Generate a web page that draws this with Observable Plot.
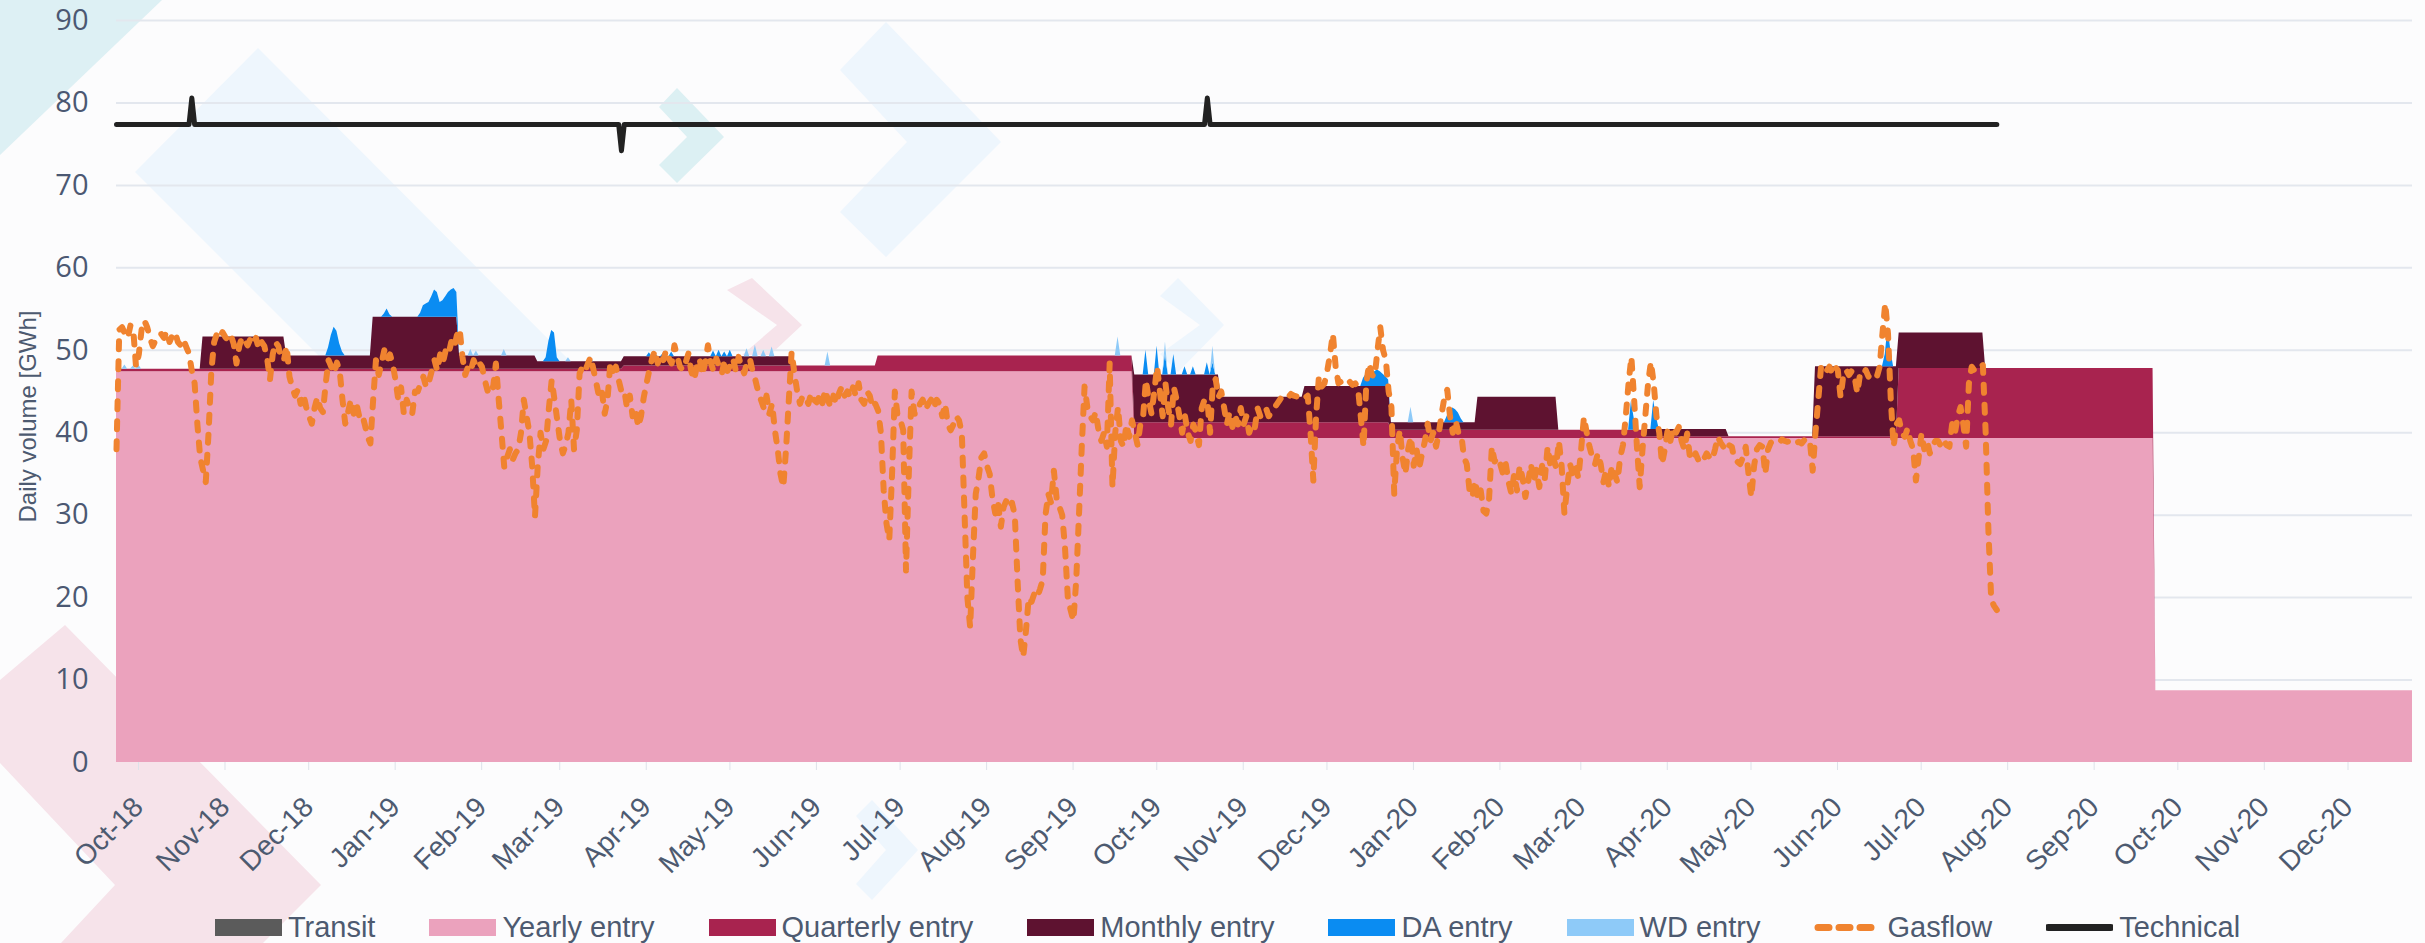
<!DOCTYPE html>
<html><head><meta charset="utf-8">
<script src="https://cdn.jsdelivr.net/npm/d3@7"></script>
<script src="https://cdn.jsdelivr.net/npm/@observablehq/plot@0.6"></script>
<style>
html,body{margin:0;padding:0;background:#fcfcfd;overflow:hidden;}
#bg{position:absolute;left:0;top:0;width:2425px;height:943px;z-index:0;}
#wrap{position:relative;z-index:1;}
#chart{width:2425px;height:893px;}
#legend{display:flex;justify-content:center;align-items:center;gap:54px;height:50px;margin-top:9px;font-family:"Liberation Sans",Arial,sans-serif;font-size:29px;color:#4d5a70;padding-left:30px;}
.item{display:flex;align-items:center;gap:6px;white-space:nowrap;}
.sw{width:67px;height:17px;display:block;}
</style></head><body>
<svg id="bg" width="2425" height="943">
  <polygon points="0,0 162,0 0,155" fill="#ddf0f4"/>
  <polygon points="258,48 135,172 470,507 593,384" fill="#eef6fd"/>
  <polygon points="886,22 1001,142 886,257 840,212 907,142 840,70" fill="#eef6fd"/>
  <polygon points="677,88 724,137 677,183 659,165 687,137 659,107" fill="#dcf0f3"/>
  <polygon points="1178,278 1224,325 1178,372 1160,354 1200,325 1160,296" fill="#eef6fd"/>
  <polygon points="752,278 802,325 770,355 742,355 777,325 727,290" fill="#f6e3ea"/>
  <polygon points="0,680 65,625 321,885 263,943 61,943 115,885 0,763" fill="#f6e3ea"/>
  <polygon points="872,800 918,850 872,900 856,884 886,850 856,816" fill="#eef6fd"/>
</svg>
<div id="wrap"><div id="chart"></div><div id="legend"></div></div>
<script>
const seriesNames = ["Transit","Yearly entry","Quarterly entry","Monthly entry","DA entry","WD entry"];
const seriesColors = ["#5b5b5b","#eba2bd","#a8234f","#5e1230","#0a8cf2","#8ecaf8"];
const lineNames = ["Gasflow","Technical"];
const lineColors = ["#f0832f","#222222"];
const yTitle = "Daily volume [GWh]";
const yTicks = [0,10,20,30,40,50,60,70,80,90];
const monthLabels = ["Oct-18","Nov-18","Dec-18","Jan-19","Feb-19","Mar-19","Apr-19","May-19","Jun-19","Jul-19","Aug-19","Sep-19","Oct-19","Nov-19","Dec-19","Jan-20","Feb-20","Mar-20","Apr-20","May-20","Jun-20","Jul-20","Aug-20","Sep-20","Oct-20","Nov-20","Dec-20"];

// Yearly entry per gas year
const yearlyStart = ["2018-10-01","2019-10-01","2020-10-01"];
const yearlyValue = [47.4, 39.3, 8.7];
// Quarterly entry (on top of yearly)
const quarterStart = ["2018-10-01","2019-01-01","2019-04-01","2019-07-01","2019-10-01","2020-01-01","2020-04-01","2020-07-01","2020-10-01"];
const quarterValue = [0.3, 0.3, 0.7, 1.9, 1.9, 1.0, 0.2, 8.5, 0];
// Monthly entry, Oct-18 .. Dec-20
const monthValue = [0,3.9,1.6,6.3,1.6,0.9,1.1,1.1,0,0,0,0,5.8,3.1,4.4,0.9,4.0,0,0.9,0,8.5,4.3,0,0,0,0,0];
// Day-ahead entry
const daDates = ["2018-12-16","2018-12-17","2018-12-18","2018-12-19","2018-12-20","2018-12-21",
 "2019-01-05","2019-01-06","2019-01-07",
 "2019-01-18","2019-01-19","2019-01-20","2019-01-21","2019-01-22","2019-01-23","2019-01-24","2019-01-25","2019-01-26","2019-01-27","2019-01-28","2019-01-29","2019-01-30","2019-01-31",
 "2019-03-04","2019-03-05","2019-03-06","2019-03-07","2019-03-08",
 "2019-04-10","2019-04-12","2019-04-15","2019-04-18","2019-05-03","2019-05-05","2019-05-07","2019-05-09",
 "2019-10-05","2019-10-09","2019-10-12","2019-10-15","2019-10-19","2019-10-22","2019-10-27","2019-10-29",
 "2019-12-22","2019-12-23","2019-12-24","2019-12-25","2019-12-26","2019-12-27","2019-12-28","2019-12-29","2019-12-30","2019-12-31",
 "2020-01-21","2020-01-22","2020-01-23","2020-01-24","2020-01-25","2020-01-26",
 "2020-03-27","2020-03-28","2020-04-04","2020-04-05",
 "2020-06-26","2020-06-27","2020-06-28"];
const daValues = [1.0,2.5,3.5,3.0,1.5,0.5,
 0.4,1.0,0.3,
 0.5,1.4,1.6,1.8,2.5,3.3,3.0,1.8,2.0,2.5,3.0,3.3,3.5,3.0,
 0.5,2.5,3.8,3.5,0.5,
 0.5,0.6,0.4,0.6,0.7,0.8,0.6,0.8,
 3.0,3.5,2.5,2.5,1.0,1.0,1.5,1.5,
 1.0,1.5,1.5,1.2,1.8,2.0,1.8,1.5,1.2,0.8,
 0.8,1.5,1.8,1.6,1.2,0.5,
 3.5,1.5,3.5,1.5,
 1.5,4.8,2.0];
// Within-day entry
const wdDates = ["2018-10-02","2018-10-04","2018-10-07","2018-10-09","2019-02-05","2019-02-07","2019-02-17","2019-03-12","2019-03-20",
 "2019-05-15","2019-05-18","2019-05-21","2019-05-24","2019-06-13","2019-09-25","2019-10-12","2019-10-29","2020-01-08"];
const wdValues = [0.4,0.5,0.4,0.5,0.8,0.6,0.8,0.5,0.6,1.0,1.4,0.8,1.2,1.7,2.3,1.5,2.0,1.9];
// Gasflow, daily from 2018-10-01
const gasStart = "2018-10-01";
const gasflow = [
38,52.5,52.8,52,51.5,53,52.5,48,49.5,52.5,
53.6,52.8,51.5,50.5,51.2,51.8,52,51.5,52.3,51,
51.8,52.2,51,50.6,51.3,50.4,49.6,47.5,46,41,
37,35.5,34,40,47.5,51,52,51.5,52.2,51.6,
51.2,51.8,50.8,48.4,50.5,51.6,51.2,50.6,51.4,50.8,
51.5,50.2,51,50.5,49,46.4,49.5,51,50.5,49,
48.8,50.5,46.8,45.5,44.5,45.2,43.5,44.7,43.1,42,
41.1,43,44.3,43,42.5,46,48.8,48,47.2,48.5,
47.5,44,41.1,42.5,44,42.3,43.5,42,42.3,41,
39.5,38.7,44,48.8,47,48.5,50,48.8,49.5,48.4,
46.4,44,45.5,42.3,44,43,42.3,45,45,46,
46.8,45.5,46.2,47.5,48.8,47.5,49.5,48.5,50,49.5,
51,50.2,51.8,52.6,49.2,47,48,47.5,48.8,48,
48.5,48,46.4,45.1,46,45.5,48.4,44,40,35.8,
37,38,36.7,37.5,38,40,44,42,40,36,
29.8,36,40,38,39,43,46.4,44,41.5,39,
37.5,38.5,40,44,38,40.3,47.2,48,47.5,48.4,
49.2,47.6,46,44.3,45,42.3,44,48.4,47.5,48,
46.4,45,45.2,43,44.5,42,43,40.7,42,44.3,
46,47.6,49,50,48.4,49.5,48.8,50,49,48.4,
50.6,49.2,48,47.6,48.5,49.6,47.5,46.4,48,49,
47,48.5,50.6,48.5,47.5,49,48,47.2,48.8,47.5,
48.2,49,47.5,49.2,48,47.2,48.5,49,47.5,46.4,
45,44,43,44.5,42.3,43.5,40.3,38,35,33.4,
38,44,49.8,47.2,45,43.5,44.5,44.3,43.5,44.8,
44,43.7,44.5,43.5,45.2,44,43.1,44.5,43.5,44.8,
45.6,44.5,45,44.3,45.5,44.5,46,44,43.5,45,
44.5,43,43.5,42.7,40,33,29,27,35,45,
42,41.5,40.3,23.3,35,45,42.3,42.3,43.5,44,
42.8,43.5,44,43,44,43.5,42,43.5,41,40.3,
41,42,41.5,40,30,20,16.4,25,32.6,34.5,
37,37.5,36,35,32,30.2,31.5,28.6,31,31.8,
31,31.5,30,22,15,12.8,16,20,19.5,20.5,
20,21,22.1,30,32.6,31.5,35.4,32,31,30,
26,20,18.5,17.2,22,30,38.3,45.6,43.1,42,
41.5,42.5,40.3,39,40,38.3,48.4,33.4,40,43.1,
39,38.3,41,39.5,41.5,40,38.5,41,42,46.4,
44,42.3,45,48,45,42,46,43,41,45.5,
44,42,40,42,40,39,41,40,38.5,43,
44,44,40,46,46.5,44.3,45,43.1,41,42.5,
40.7,42,41,43,41,42,40,41,40.5,43,
42,42.5,43,42,42.5,43,43.5,44,44.5,44.5,
44.3,44.7,44.5,44.4,44.6,44.5,44.2,44.5,40,34.2,
42,46.8,45.6,46,47.5,49.5,52,48,46,46.2,
45.8,46,46.2,45.8,46,45.5,42,38.3,46,48.4,
47,46.8,50,52.8,50,48.8,45,43.1,32.6,38,
40.3,37,35,38,39.5,36,38,35.8,37.5,39,
41.1,39,40,38.3,40,42.3,44.3,45.2,42,40,
41.5,40,39.9,37,36.2,33,32.2,34.2,32,33,
30.5,30.2,32,38.3,36.5,37,36.2,35,36.2,34,
32.6,35,33,36,34.5,32.2,34,36.2,34,35.5,
33.4,36,34.5,38.3,36,37,35.8,39,36,30.2,
33.4,36.2,35,36,34.5,38,41.9,40,38.3,37,
36.2,37.5,36.2,34,35.5,33.4,36,35,34,37,
38.5,42,46,49.2,44,38.3,33.4,38,42,46,
48.6,46,42,40,36.2,38,40.3,39,40.7,40,
40.7,39,38,39.9,37,36.7,37.5,36.7,37.2,36.8,
37.5,37,36.7,38,39.5,38.8,38.3,39,38.5,38.3,
36.7,36.5,36.2,37,38.3,35,32.2,36,38,38.5,
38.3,35,38,38.8,39,39,38.8,39.2,39,38.9,
39.1,39,38.7,38.9,38.7,39.1,38.8,39,35.4,40,
44,48,48.2,47.5,48,47.2,48,47.6,44.3,47,
47.6,47,47.5,46.8,44.8,47.2,47,47.6,46.8,47.2,
47,46.8,48,52,55.7,52,44,38.3,41,41.5,
40,39.5,40.5,39,38,34.2,37,39.9,38,39,
37.5,38.5,39,39,38.3,39,38.5,38.3,41.1,40,
42,43.1,41,38.3,46,48,47.5,48,48,48.2,
40,28,19.7,19,18.5];
// Technical capacity
const techDates = ["2018-10-01","2018-10-27","2018-10-28","2018-10-29","2019-03-30","2019-03-31","2019-04-01","2019-10-26","2019-10-27","2019-10-28","2020-08-05"];
const techValues = [77.4,77.4,80.6,77.4,77.4,74.2,77.4,77.4,80.6,77.4,77.4];

const parse = d3.utcParse("%Y-%m-%d");
const fmt = d3.utcFormat("%Y-%m-%d");
const start = parse("2018-10-01"), end = parse("2021-01-01");
const days = d3.utcDay.range(start, d3.utcDay.offset(end, 1));
const daMap = new Map(daDates.map((d, i) => [d, daValues[i]]));
const wdMap = new Map(wdDates.map((d, i) => [d, wdValues[i]]));
const yStarts = yearlyStart.map(parse), qStarts = quarterStart.map(parse);
const stepIndex = (starts, d) => { let k = 0; starts.forEach((s, i) => { if (s <= d) k = i; }); return k; };
const rows = [];
for (const d of days) {
  const mi = Math.min(monthValue.length - 1, d3.utcMonth.count(start, d));
  const key = fmt(d);
  const vals = [0, yearlyValue[stepIndex(yStarts, d)], quarterValue[stepIndex(qStarts, d)], monthValue[mi], daMap.get(key) || 0, wdMap.get(key) || 0];
  seriesNames.forEach((s, i) => rows.push({date: d, series: s, value: vals[i]}));
}
const g0 = parse(gasStart);
const gasRows = gasflow.map((v, i) => ({date: d3.utcDay.offset(g0, i), value: v}));
const techRows = techDates.map((d, i) => ({date: parse(d), value: techValues[i]}));
const monthTicks = d3.utcMonth.range(start, end);

const txt = "#4d5a70";
const chart = Plot.plot({
  width: 2425, height: 893,
  marginLeft: 116, marginRight: 13, marginTop: 20, marginBottom: 131,
  style: {background: "transparent", fontFamily: "'Liberation Sans', Arial, sans-serif", color: txt},
  x: {type: "utc", domain: [start, end]},
  y: {domain: [0, 90]},
  color: {domain: seriesNames, range: seriesColors},
  marks: [
    Plot.gridY(yTicks.filter(v => v > 0), {stroke: "#e3e7ee", strokeOpacity: 1, strokeWidth: 2}),
    Plot.areaY(rows, {x: "date", y: "value", fill: "series", z: "series", order: seriesNames}),
    Plot.line(techRows, {x: "date", y: "value", stroke: lineColors[1], strokeWidth: 5}),
    Plot.line(gasRows, {x: "date", y: "value", stroke: lineColors[0], strokeWidth: 6, strokeDasharray: "8,12", strokeLinecap: "round"}),
    Plot.axisY({ticks: yTicks, tickSize: 0, tickPadding: 28, fontSize: 29, fontFamily: "'Open Sans', sans-serif", fill: "#4b5872", label: null}),
    Plot.axisX({ticks: monthTicks, tickFormat: d => monthLabels[d3.utcMonth.count(start, d)], tickRotate: -45, tickSize: 8, tickPadding: 32, fontSize: 28, stroke: "#dde2ea", fill: txt, label: null, dx: 22}),
    Plot.text([yTitle], {frameAnchor: "left", textAnchor: "middle", lineAnchor: "middle", dx: -88, dy: 25, rotate: -90, fontSize: 24, fontFamily: "'Liberation Sans', Arial, sans-serif", fill: txt})
  ]
});
document.getElementById("chart").appendChild(chart);

// Legend
const legend = document.getElementById("legend");
const allNames = seriesNames.concat(lineNames);
const allColors = seriesColors.concat(lineColors);
allNames.forEach((name, i) => {
  const item = document.createElement("div");
  item.className = "item";
  let sw;
  if (name === "Gasflow") {
    sw = `<svg class="sw" width="67" height="17"><line x1="4" y1="8.5" x2="64" y2="8.5" stroke="${allColors[i]}" stroke-width="7" stroke-dasharray="11,10" stroke-linecap="round"/></svg>`;
  } else if (name === "Technical") {
    sw = `<svg class="sw" width="67" height="17"><line x1="2" y1="8.5" x2="65" y2="8.5" stroke="${allColors[i]}" stroke-width="7" stroke-linecap="round"/></svg>`;
  } else {
    sw = `<svg class="sw" width="67" height="17"><rect width="67" height="17" fill="${allColors[i]}"/></svg>`;
  }
  item.innerHTML = sw + `<span>${name}</span>`;
  legend.appendChild(item);
});
</script>
</body></html>
